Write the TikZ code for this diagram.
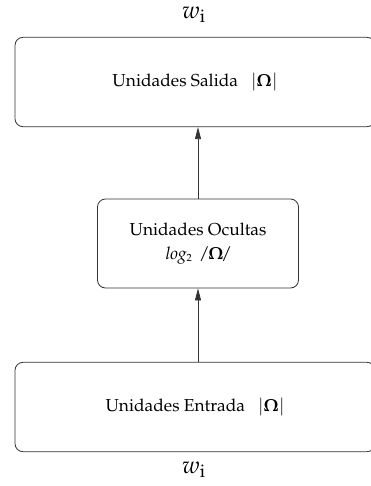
\documentclass[tikz,border=0pt]{standalone}
\usepackage[T1]{fontenc}
\usepackage{mathpazo}
\usetikzlibrary{arrows.meta}
\tikzset{
  layerbox/.style={draw=black!80, line width=0.6pt, rounded corners=6pt, align=center, font=\fontsize{13}{16.5}\selectfont, inner sep=0pt},
  wide/.style={layerbox, minimum width=270pt, minimum height=67pt},
  narrow/.style={layerbox, minimum width=150.75pt, minimum height=66.75pt},
  link/.style={draw=black!80, line width=0.6pt, -{Triangle[width=4.5pt,length=9pt]}},
  wlabel/.style={font=\fontsize{18}{21}\selectfont, inner sep=0pt}
}
\begin{document}
\begin{tikzpicture}[x=0.75pt,y=-0.75pt]
\useasboundingbox (0,0) rectangle (371,486);
\node[wide] (out) at (195,82) {Unidades Salida\enspace\ $|\mathbf{\Omega}|$};
\node[narrow] (hid) at (198,243.5) {Unidades Ocultas\\[1pt]\textit{log}$_{\scriptscriptstyle 2}$\ \ \textit{/}$\mathbf{\Omega}$\textit{/}};
\node[wide] (in) at (195,407) {Unidades Entrada\enspace\ $|\mathbf{\Omega}|$};
\node[wlabel] (wtop) at (194,15) {$w_{\mathrm{i}}$};
\node[wlabel] (wbot) at (194,470) {$w_{\mathrm{i}}$};
\draw[link] (in.north -| hid.center) -- (hid.south);
\draw[link] (hid.north) -- (out.south -| hid.center);
\end{tikzpicture}
\end{document}
